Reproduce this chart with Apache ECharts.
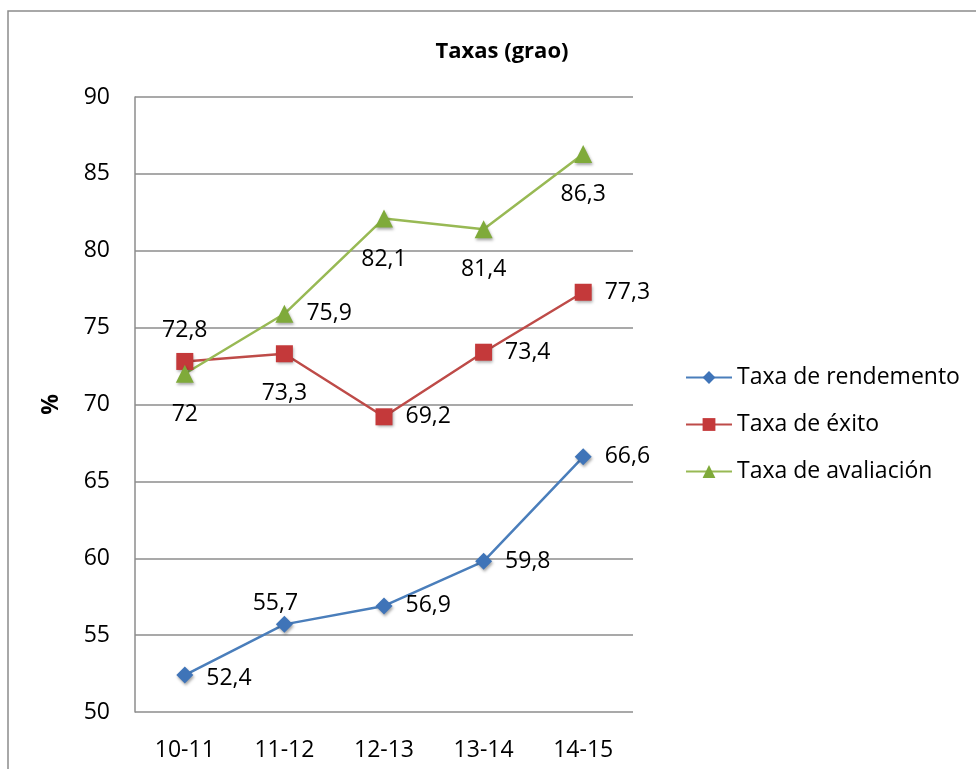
<!DOCTYPE html>
<html><head><meta charset="utf-8">
<script src="https://cdn.jsdelivr.net/npm/echarts@6/dist/echarts.min.js"></script>
<style>html,body{margin:0;padding:0;background:#fff;}#c{width:976px;height:769px;}</style>
</head><body><div id="c"></div>
<script>
const categories = ['10-11','11-12','12-13','13-14','14-15'];
const rendemento = [52.4, 55.7, 56.9, 59.8, 66.6];
const exito = [72.8, 73.3, 69.2, 73.4, 77.3];
const avaliacion = [72, 75.9, 82.1, 81.4, 86.3];
const yTicks = {min: 50, max: 90, interval: 5};

const rendPos = ['right','top','right','right','right'];
const exitoPos = ['top','bottom','right','right','right'];
const avalPos = ['bottom','right','bottom','bottom','bottom'];

const FONT = 'Open Sans';
const FS = 23;
function fmt(v){ return String(v).replace('.', ','); }
function mk(vals, pos){
  return vals.map((v,i)=>{
    const p = pos[i];
    const lab = {position: p, distance: p==='right'?13:(p==='top'?11:20)};
    return {value: v, label: lab};
  });
}
const labelBase = {show:true, color:'#000', fontFamily:FONT, fontSize:FS, formatter: p=>fmt(p.value)};
const shadow = {shadowBlur:3, shadowColor:'rgba(0,0,0,0.35)', shadowOffsetX:1, shadowOffsetY:2};

const rendData = mk(rendemento, rendPos);
rendData[0].label.offset = [0, 3];
rendData[1].label.distance = 1;
rendData[1].label.offset = [-9, 0];

const chart = echarts.init(document.getElementById('c'), null, {renderer:'canvas'});
chart.setOption({
  animation:false,
  backgroundColor:'#fff',
  graphic:[{type:'rect', shape:{x:8, y:11, width:1000, height:1000}, style:{fill:'none', stroke:'#8c8c8c', lineWidth:1.5}, z:-1}],
  title:{text:'Taxas (grao)', left:497, top:36, textAlign:'center', textStyle:{fontFamily:FONT, fontWeight:'bold', fontSize:22, color:'#000'}},
  legend:{
    orient:'vertical', left:680, top:360, itemGap:22, itemWidth:46, itemHeight:16,
    textStyle:{fontFamily:FONT, fontSize:FS, lineHeight:25, color:'#000', padding:[0,0,0,0]},
    data:['Taxa de rendemento','Taxa de éxito','Taxa de avaliación']
  },
  grid:{left:135, right:343, top:97, bottom:57},
  xAxis:{
    type:'category', data:categories, boundaryGap:true,
    axisLine:{show:false}, axisTick:{show:false},
    axisLabel:{fontFamily:FONT, fontSize:FS, color:'#000', margin:27}
  },
  yAxis:{
    type:'value', min:yTicks.min, max:yTicks.max, interval:yTicks.interval,
    name:'%', nameLocation:'middle', nameGap:72, nameRotate:90,
    nameTextStyle:{fontFamily:FONT, fontWeight:'bold', fontSize:FS, color:'#000'},
    axisLine:{show:true, lineStyle:{color:'#8c8c8c', width:1.5}},
    axisTick:{show:false},
    axisLabel:{fontFamily:FONT, fontSize:FS, color:'#000', margin:25},
    splitLine:{lineStyle:{color:'#8c8c8c', width:1.5}}
  },
  series:[
    {name:'Taxa de rendemento', type:'line', data:rendData, symbol:'diamond', symbolSize:17,
     lineStyle:{color:'#4a7ebb', width:2.5}, itemStyle:Object.assign({color:'#3f74b8'}, shadow), label:labelBase},
    {name:'Taxa de éxito', type:'line', data:mk(exito, exitoPos), symbol:'rect', symbolSize:17,
     lineStyle:{color:'#be4b48', width:2.5}, itemStyle:Object.assign({color:'#c4393a'}, shadow), label:labelBase},
    {name:'Taxa de avaliación', type:'line', data:mk(avaliacion, avalPos), symbol:'triangle', symbolSize:18,
     lineStyle:{color:'#98b954', width:2.5}, itemStyle:Object.assign({color:'#7faa3a'}, shadow), label:labelBase}
  ]
});
</script></body></html>
